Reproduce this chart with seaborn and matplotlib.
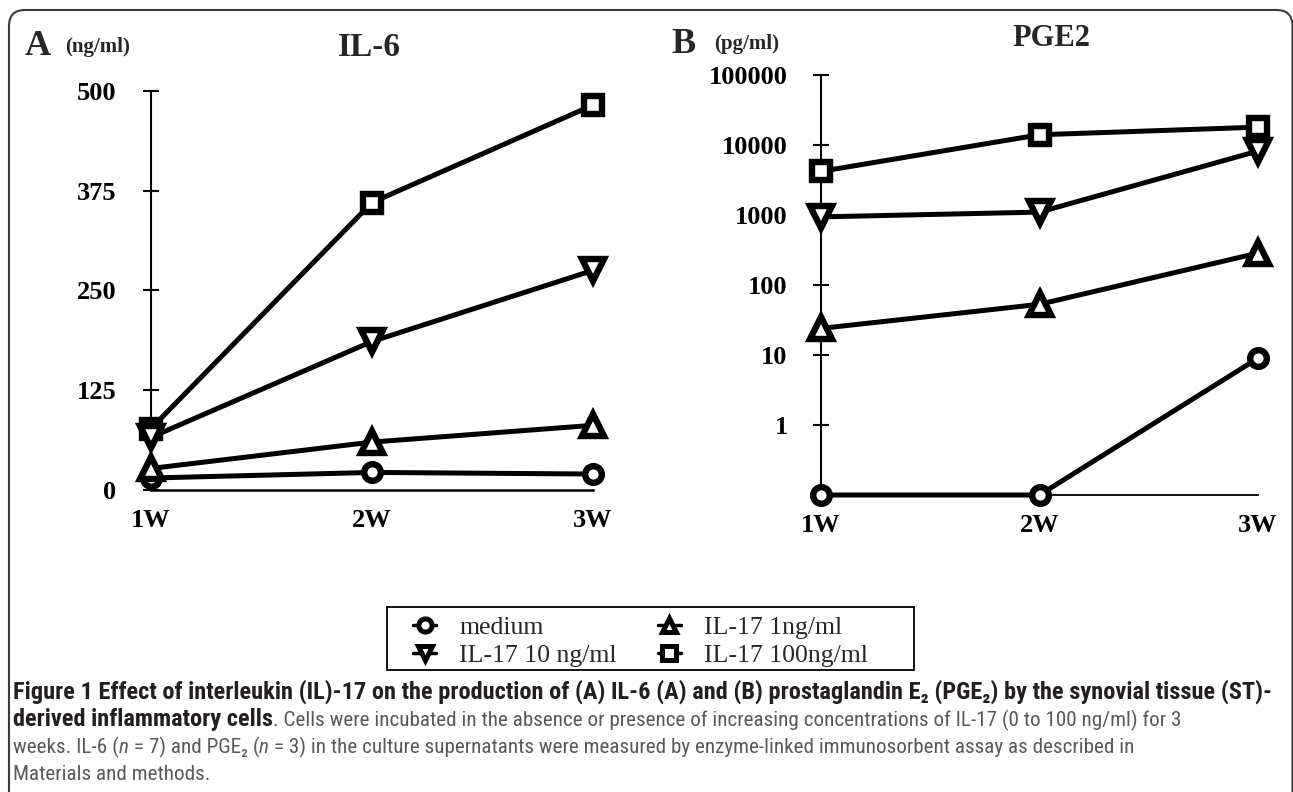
import matplotlib
matplotlib.use("Agg")
import numpy as np
import pandas as pd
import seaborn as sns
import matplotlib.pyplot as plt
from matplotlib import font_manager as fm
from matplotlib.lines import Line2D
from matplotlib.patches import FancyBboxPatch, Rectangle
from matplotlib.transforms import IdentityTransform
from matplotlib.ticker import NullLocator, FixedLocator, FixedFormatter

# ---------------- data ----------------
weeks = ["1W", "2W", "3W"]
groups = ["medium", "IL-17 1ng/ml", "IL-17 10 ng/ml", "IL-17 100ng/ml"]

il6_medium = [15, 22, 20]
il6_1ng = [27, 60, 81]
il6_10ng = [66, 186, 275]
il6_100ng = [77, 360, 482]

pge2_medium = [0.1, 0.1, 9]
pge2_1ng = [24, 53, 286]
pge2_10ng = [940, 1100, 8200]
pge2_100ng = [4200, 14000, 18000]

il6_ticks = [0, 125, 250, 375, 500]
pge2_ticks = [1, 10, 100, 1000, 10000, 100000]
pge2_ticklabels = ["1", "10", "100", "1000", "10000", "100000"]

marker_map = {"medium": "o", "IL-17 1ng/ml": "^", "IL-17 10 ng/ml": "v", "IL-17 100ng/ml": "s"}


def make_df(series):
    rows = []
    for g, vals in zip(groups, series):
        for i, v in enumerate(vals):
            rows.append({"week": i, "value": v, "group": g})
    return pd.DataFrame(rows)


df_il6 = make_df([il6_medium, il6_1ng, il6_10ng, il6_100ng])
df_pge2 = make_df([pge2_medium, pge2_1ng, pge2_10ng, pge2_100ng])

# ---------------- fonts ----------------
sns.set_theme(style="white")
serif = "Liberation Serif"
plt.rcParams["font.family"] = [serif, "DejaVu Serif"]


def pick_caption_font():
    for name in ["Liberation Sans Narrow", "Roboto Condensed", "Open Sans Condensed",
                 "Noto Sans Condensed", "DejaVu Sans Condensed"]:
        try:
            fm.findfont(fm.FontProperties(family=name), fallback_to_default=False)
            return name, "normal"
        except Exception:
            pass
    for name in ["Noto Sans", "Open Sans", "Roboto", "DejaVu Sans"]:
        try:
            p = fm.findfont(fm.FontProperties(family=name, stretch="condensed"),
                            fallback_to_default=False)
            if "ondensed" in p or "arrow" in p:
                return name, "condensed"
        except Exception:
            pass
    for name in ["Roboto", "Liberation Sans"]:
        try:
            fm.findfont(fm.FontProperties(family=name), fallback_to_default=False)
            return name, "normal"
        except Exception:
            pass
    return "DejaVu Sans", "normal"


cap_family, cap_stretch = pick_caption_font()

W, H = 1293, 792
fig = plt.figure(figsize=(W / 100, H / 100), dpi=100)
fig.patch.set_facecolor("white")


def px_axes(l, t, r, b):
    return [l / W, 1 - b / H, (r - l) / W, (b - t) / H]


def fx(x):
    return x / W


def fy(y):
    return 1 - y / H


ax1 = fig.add_axes(px_axes(151, 90.7, 593, 490))
ax2 = fig.add_axes(px_axes(821, 75, 1258, 495))

size_map = {"o": (12, 4.6), "^": (16.5, 4.6), "v": (16.5, 4.6), "s": (13, 4.6)}
z_map = {"o": 3, "^": 4, "s": 5, "v": 6}

for ax, df in [(ax1, df_il6), (ax2, df_pge2)]:
    sns.lineplot(data=df, x="week", y="value", hue="group", style="group",
                 hue_order=groups, style_order=groups,
                 palette=["black"] * 4, markers=marker_map, dashes=False,
                 errorbar=None, legend=False, ax=ax,
                 lw=3.6, mfc="white", mec="black", clip_on=False)
    for ln in ax.lines:
        m = ln.get_marker()
        ms, mew = size_map.get(m, (12, 4.5))
        ln.set_markersize(ms)
        ln.set_markeredgewidth(mew)
        ln.set_markerfacecolor("white")
        ln.set_markeredgecolor("black")
        ln.set_color("black")
        ln.set_zorder(z_map.get(m, 3))
        ln.set_clip_on(False)

    ax.set_facecolor("none")
    ax.grid(False)
    ax.set_xlim(0, 2)
    ax.set_xticks([0, 1, 2])
    ax.set_xticklabels(weeks, fontsize=19, fontweight="bold", family=serif)
    ax.tick_params(axis="x", bottom=False, length=0, pad=14, colors="black")
    ax.set_xlabel("")
    ax.set_ylabel("")
    for s in ["top", "right"]:
        ax.spines[s].set_visible(False)
    ax.spines["left"].set_linewidth(1.5)
    ax.spines["left"].set_color("black")
    ax.spines["bottom"].set_linewidth(1.8)
    ax.spines["bottom"].set_color("black")
    ax.spines["left"].set_zorder(2)

ax1.set_ylim(0, 500)
ax1.set_yticks(il6_ticks)
ax1.set_yticklabels([str(t) for t in il6_ticks], fontsize=19, fontweight="bold", family=serif)
ax1.tick_params(axis="y", left=True, direction="inout", length=12, width=1.5, pad=19, colors="black")

ax2.set_yscale("log")
ax2.set_ylim(0.1, 100000)
ax2.yaxis.set_major_locator(FixedLocator(pge2_ticks))
ax2.yaxis.set_major_formatter(FixedFormatter(pge2_ticklabels))
ax2.yaxis.set_minor_locator(NullLocator())
for lab in ax2.get_yticklabels():
    lab.set_fontsize(19)
    lab.set_fontweight("bold")
    lab.set_family(serif)
ax2.tick_params(axis="y", left=True, direction="inout", length=12, width=1.5, pad=18, colors="black")
ax2.spines["bottom"].set_linewidth(1.3)

# ---------------- panel titles ----------------
fig.text(fx(25), fy(55), "A", fontsize=26, fontweight="bold", family=serif, va="baseline", ha="left")
fig.text(fx(65), fy(52), "(ng/ml)", fontsize=15, fontweight="bold", family=serif, va="baseline", ha="left")
fig.text(fx(369), fy(56), "IL-6", fontsize=24, fontweight="bold", family=serif, va="baseline", ha="center")
fig.text(fx(671), fy(53), "B", fontsize=26, fontweight="bold", family=serif, va="baseline", ha="left")
fig.text(fx(714), fy(49), "(pg/ml)", fontsize=15, fontweight="bold", family=serif, va="baseline", ha="left")
fig.text(fx(1051), fy(46), "PGE2", fontsize=22, fontweight="bold", family=serif, va="baseline", ha="center")

# ---------------- legend ----------------
handles = {}
for g in groups:
    handles[g] = Line2D([], [], color="black", lw=2.5, marker=marker_map[g], ms=9.5,
                        mew=3.6, mfc="white", mec="black")
order = ["medium", "IL-17 10 ng/ml", "IL-17 1ng/ml", "IL-17 100ng/ml"]
leg_fs = 18.5
leg = fig.legend([handles[g] for g in order], order, ncol=2,
                 loc="upper left", bbox_to_anchor=(fx(413), fy(616)),
                 frameon=False, prop={"family": serif, "size": leg_fs},
                 handlelength=0.9, handletextpad=0.9, columnspacing=1.6,
                 labelspacing=0.2, borderpad=0, borderaxespad=0)
fig.add_artist(Rectangle((387, H - 670), 914 - 387, 670 - 607, transform=IdentityTransform(),
                         fill=False, edgecolor="black", lw=1.3))

# ---------------- frame ----------------
frame = FancyBboxPatch((9, -50), 1292.5 - 9, H - 10 + 50, boxstyle="round,pad=0,rounding_size=16",
                       transform=IdentityTransform(), fill=False, edgecolor="#3a3a3a", lw=1.5)
fig.add_artist(frame)

# ---------------- caption ----------------
dark = "#231f20"
gray = "#58595b"
renderer = fig.canvas.get_renderer()


def cap_props(size, weight="normal", style="normal"):
    return dict(family=[cap_family, "DejaVu Sans"], stretch=cap_stretch, fontsize=size,
                fontweight=weight, fontstyle=style)


def run_width(s, size, weight="normal", style="normal"):
    t1 = fig.text(0, 0, "|" + s + "|", **cap_props(size, weight, style))
    t2 = fig.text(0, 0, "||", **cap_props(size, weight, style))
    w = t1.get_window_extent(renderer).width - t2.get_window_extent(renderer).width
    t1.remove()
    t2.remove()
    return w


line1 = ("Figure 1 Effect of interleukin (IL)-17 on the production of (A) IL-6 (A) and (B) "
         "prostaglandin E\u2082 (PGE\u2082) by the synovial tissue (ST)-")
line3 = ("weeks. IL-6 (n = 7) and PGE\u2082 (n = 3) in the culture supernatants were measured by "
         "enzyme-linked immunosorbent assay as described in")
base = 14.0
x0 = 13
bold_size = min(18.0, base * (1274 - x0) / run_width(line1, base, "bold"))
reg_size = min(18.0, base * (1140 - x0) / run_width(line3, base, "normal"))


def draw_runs(x, y, runs):
    for s, weight, style, color in runs:
        size = bold_size if weight == "bold" else reg_size
        fig.text(fx(x), fy(y), s, color=color, va="baseline", ha="left",
                 **cap_props(size, weight, style))
        x += run_width(s, size, weight, style)


draw_runs(x0, 699, [(line1, "bold", "normal", dark)])
draw_runs(x0, 726, [("derived inflammatory cells", "bold", "normal", dark),
                    (". Cells were incubated in the absence or presence of increasing concentrations "
                     "of IL-17 (0 to 100 ng/ml) for 3", "normal", "normal", gray)])
draw_runs(x0, 753, [("weeks. IL-6 (", "normal", "normal", gray),
                    ("n", "normal", "italic", gray),
                    (" = 7) and PGE\u2082 (", "normal", "normal", gray),
                    ("n", "normal", "italic", gray),
                    (" = 3) in the culture supernatants were measured by enzyme-linked "
                     "immunosorbent assay as described in", "normal", "normal", gray)])
draw_runs(x0, 780, [("Materials and methods.", "normal", "normal", gray)])

fig.savefig("out.png", dpi=100, facecolor="white")
